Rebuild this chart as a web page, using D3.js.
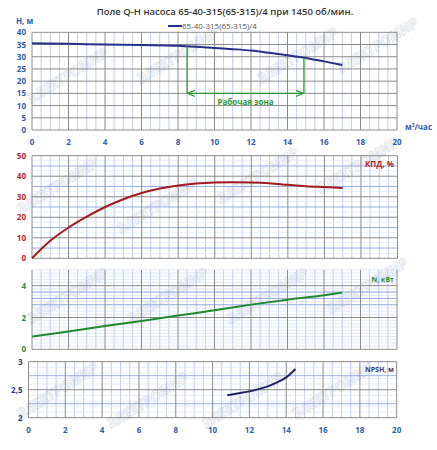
<!DOCTYPE html>
<html>
<head>
<meta charset="utf-8">
<script src="https://cdn.jsdelivr.net/npm/d3@7"></script>
<style>
  html, body { margin: 0; padding: 0; background: #fff; }
  svg text { font-family: "Open Sans", "DejaVu Sans", sans-serif; }
</style>
</head>
<body>
<div id="chart"></div>
<script>
// flow, m3/h
const xTicks = [0, 2, 4, 6, 8, 10, 12, 14, 16, 18, 20];

const headQ = [0, 2, 4, 6, 8, 9, 10, 11, 12, 13, 14, 15, 16, 17];
const headH = [35.5, 35.3, 35.0, 34.8, 34.5, 34.1, 33.6, 33.1, 32.5, 31.6, 30.6, 29.5, 28.1, 26.6];

const effQ = [0, 1, 2, 3, 4, 5, 6, 7, 8, 9, 10, 11, 12, 13, 14, 15, 16, 17];
const effV = [0, 8.5, 15, 20.3, 25, 28.8, 31.8, 34, 35.5, 36.4, 36.9, 37.1, 37, 36.6, 35.8, 35.1, 34.7, 34.3];

const powQ = [0, 2, 4, 6, 8, 10, 12, 14, 16, 17];
const powN = [0.8, 1.12, 1.46, 1.78, 2.12, 2.46, 2.81, 3.12, 3.4, 3.57];

const npshQ = [10.8, 11.5, 12, 12.5, 13, 13.5, 14, 14.5];
const npshV = [2.4, 2.44, 2.47, 2.51, 2.56, 2.63, 2.72, 2.87];

const workZone = [8.5, 14.9];
const workZoneLevel = 15;

const width = 437, height = 450;
const svg = d3.select("#chart").append("svg")
  .attr("width", width).attr("height", height);

// watermark
const wm = svg.append("g");
const wmPos = [[70,80],[180,60],[300,60],[380,50],[60,190],[160,210],[260,180],[360,170],
               [70,300],[170,300],[270,300],[370,290],[60,395],[150,405],[245,405],[335,395]];
wmPos.forEach(([x, y]) => {
  wm.append("text")
    .attr("transform", `translate(${x},${y}) rotate(-32)`)
    .attr("text-anchor", "middle")
    .style("font-size", "14px").style("font-weight", 700).style("font-style", "italic")
    .style("fill", "none").style("stroke", "#e2e5ec").style("stroke-width", 1)
    .text("ЭЛЕКТРОМИР");
});

const majorCol = "#7f7f7f";
const blueCol = "#8ea6e0";

function panel(opt) {
  const g = svg.append("g");
  const x = d3.scaleLinear().domain([0, 20]).range([opt.x0, opt.x1]);
  const y = d3.scaleLinear().domain(opt.yDomain).range([opt.yBottom, opt.yTop]);

  // minor vertical grid
  g.append("g").selectAll("line").data(d3.range(0, 20.01, 0.5).filter(v => v % 2 !== 0))
    .join("line")
    .attr("x1", d => x(d)).attr("x2", d => x(d))
    .attr("y1", opt.yTop).attr("y2", opt.yBottom)
    .attr("stroke", blueCol).attr("stroke-width", 0.7).attr("opacity", 0.8);

  // minor horizontal grid
  (opt.hMinor || []).forEach(m => {
    g.append("g").selectAll("line").data(m.values).join("line")
      .attr("x1", opt.x0).attr("x2", opt.x1)
      .attr("y1", d => y(d)).attr("y2", d => y(d))
      .attr("stroke", m.color).attr("stroke-width", m.w || 0.7);
  });

  // major grid
  g.append("g").selectAll("line").data(xTicks).join("line")
    .attr("x1", d => x(d)).attr("x2", d => x(d))
    .attr("y1", opt.yTop).attr("y2", opt.yBottom)
    .attr("stroke", majorCol).attr("stroke-width", 0.9);
  g.append("g").selectAll("line").data(opt.yTicks).join("line")
    .attr("x1", opt.x0).attr("x2", opt.x1)
    .attr("y1", d => y(d)).attr("y2", d => y(d))
    .attr("stroke", majorCol).attr("stroke-width", 0.9);

  // y tick labels
  g.append("g").selectAll("text").data(opt.yTicks).join("text")
    .attr("x", opt.x0 - 6).attr("y", d => y(d) + 3)
    .attr("text-anchor", "end")
    .style("font-size", "8px").style("font-weight", 700)
    .style("fill", opt.labelColor)
    .text(opt.yFormat || (d => d));

  return { g, x, y };
}

// ---- Panel 1: H
const p1 = panel({
  x0: 32, x1: 397, yTop: 32.3, yBottom: 130, yDomain: [0, 40],
  yTicks: d3.range(0, 41, 5), labelColor: "#2f5ea8"
});
p1.g.append("path")
  .datum(headQ.map((q, i) => [q, headH[i]]))
  .attr("d", d3.line().x(d => p1.x(d[0])).y(d => p1.y(d[1])).curve(d3.curveMonotoneX))
  .attr("fill", "none").attr("stroke", "#26308a").attr("stroke-width", 2);

// working zone
const hAt = q => {
  for (let i = 1; i < headQ.length; i++) {
    if (q <= headQ[i]) {
      const t = (q - headQ[i - 1]) / (headQ[i] - headQ[i - 1]);
      return headH[i - 1] + t * (headH[i] - headH[i - 1]);
    }
  }
};
const zoneCol = "#2e9a35";
workZone.forEach(q => {
  p1.g.append("line")
    .attr("x1", p1.x(q)).attr("x2", p1.x(q))
    .attr("y1", p1.y(hAt(q))).attr("y2", p1.y(workZoneLevel))
    .attr("stroke", zoneCol).attr("stroke-width", 1.3);
});
const defs = svg.append("defs");
defs.append("marker").attr("id", "arr").attr("viewBox", "0 0 10 10")
  .attr("refX", 9).attr("refY", 5).attr("markerWidth", 6).attr("markerHeight", 6)
  .attr("orient", "auto-start-reverse")
  .append("path").attr("d", "M0,1 L10,5 L0,9").attr("fill", "none")
  .attr("stroke", zoneCol).attr("stroke-width", 1.5);
p1.g.append("line")
  .attr("x1", p1.x(workZone[0]) + 1).attr("x2", p1.x(workZone[1]) - 1)
  .attr("y1", p1.y(workZoneLevel)).attr("y2", p1.y(workZoneLevel))
  .attr("stroke", zoneCol).attr("stroke-width", 1.3)
  .attr("marker-start", "url(#arr)").attr("marker-end", "url(#arr)");
p1.g.append("text")
  .attr("x", p1.x((workZone[0] + workZone[1]) / 2)).attr("y", p1.y(workZoneLevel) + 12)
  .attr("text-anchor", "middle")
  .style("font-size", "8px").style("font-weight", 700).style("fill", zoneCol)
  .text("Рабочая зона");

// x labels under panel 1
p1.g.append("g").selectAll("text").data(xTicks).join("text")
  .attr("x", d => p1.x(d)).attr("y", 145)
  .attr("text-anchor", "middle")
  .style("font-size", "8px").style("font-weight", 700).style("fill", "#2f5ea8")
  .text(d => d);
svg.append("text").attr("x", 432).attr("y", 130).attr("text-anchor", "end")
  .style("font-size", "8px").style("font-weight", 700).style("fill", "#2f5ea8")
  .html('м<tspan dy="-3" style="font-size:5px">3</tspan><tspan dy="3">/час</tspan>');

svg.append("text").attr("x", 16).attr("y", 24)
  .style("font-size", "8px").style("font-weight", 700).style("fill", "#2f5ea8")
  .text("H, м");

// title
svg.append("text").attr("x", 225).attr("y", 15).attr("text-anchor", "middle")
  .style("font-size", "9.5px").style("font-weight", 600).style("fill", "#333")
  .text("Поле Q-H насоса 65-40-315(65-315)/4 при 1450 об/мин.");

// legend
svg.append("line").attr("x1", 168).attr("x2", 182).attr("y1", 26).attr("y2", 26)
  .attr("stroke", "#26308a").attr("stroke-width", 2);
svg.append("text").attr("x", 182).attr("y", 29)
  .style("font-size", "8px").style("fill", "#555")
  .text("65-40-315(65-315)/4");

// ---- Panel 2: efficiency
const p2 = panel({
  x0: 32, x1: 397.5, yTop: 155.7, yBottom: 258.3, yDomain: [0, 50],
  yTicks: d3.range(0, 51, 10), labelColor: "#b2252b",
  hMinor: [
    { values: d3.range(0, 50, 2.5).filter(v => v % 5 !== 0), color: "#dde6f6" },
    { values: [5, 15, 25, 35, 45], color: blueCol, w: 0.9 }
  ]
});
p2.g.append("path")
  .datum(effQ.map((q, i) => [q, effV[i]]))
  .attr("d", d3.line().x(d => p2.x(d[0])).y(d => p2.y(d[1])).curve(d3.curveMonotoneX))
  .attr("fill", "none").attr("stroke", "#a3191f").attr("stroke-width", 2);
svg.append("text").attr("x", 394).attr("y", 167).attr("text-anchor", "end")
  .style("font-size", "8px").style("font-weight", 700).style("fill", "#b2252b")
  .text("КПД, %");

// ---- Panel 3: power
const p3 = panel({
  x0: 32, x1: 397, yTop: 269.8, yBottom: 349.3, yDomain: [0, 5],
  yTicks: [0, 2, 4], labelColor: "#2e8b3a",
  hMinor: [
    { values: d3.range(0.2, 5.01, 0.2).filter(v => Math.abs(v - 2) > 0.01 && Math.abs(v - 4) > 0.01), color: "#d3def3" },
    { values: [2.8, 3.2, 3.6], color: blueCol, w: 0.9 }
  ]
});
p3.g.append("path")
  .datum(powQ.map((q, i) => [q, powN[i]]))
  .attr("d", d3.line().x(d => p3.x(d[0])).y(d => p3.y(d[1])).curve(d3.curveMonotoneX))
  .attr("fill", "none").attr("stroke", "#1f8a2e").attr("stroke-width", 2);
svg.append("text").attr("x", 394).attr("y", 282).attr("text-anchor", "end")
  .style("font-size", "7px").style("font-weight", 700).style("fill", "#2e8b3a")
  .text("N, кВт");

// ---- Panel 4: NPSH
const p4 = panel({
  x0: 28.5, x1: 396.7, yTop: 361.7, yBottom: 417.7, yDomain: [2, 3],
  yTicks: [2, 2.5, 3], labelColor: "#2a3a7a",
  yFormat: d => String(d).replace(".", ","),
  hMinor: [
    { values: [2.1, 2.2, 2.3, 2.4, 2.6, 2.7, 2.8, 2.9], color: "#dde6f6" },
    { values: [2.25, 2.75], color: blueCol, w: 0.9 }
  ]
});
p4.g.append("path")
  .datum(npshQ.map((q, i) => [q, npshV[i]]))
  .attr("d", d3.line().x(d => p4.x(d[0])).y(d => p4.y(d[1])).curve(d3.curveMonotoneX))
  .attr("fill", "none").attr("stroke", "#232266").attr("stroke-width", 2);
p4.g.append("g").selectAll("text").data(xTicks).join("text")
  .attr("x", d => p4.x(d)).attr("y", 433)
  .attr("text-anchor", "middle")
  .style("font-size", "8px").style("font-weight", 700).style("fill", "#2f5ea8")
  .text(d => d);
svg.append("text").attr("x", 394).attr("y", 372).attr("text-anchor", "end")
  .style("font-size", "7px").style("font-weight", 700).style("fill", "#3a3a7a")
  .text("NPSH, м");
</script>
</body>
</html>
